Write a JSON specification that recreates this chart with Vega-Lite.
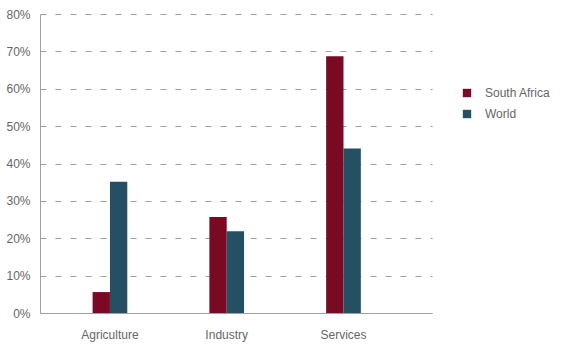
{
  "$schema": "https://vega.github.io/schema/vega-lite/v6.json",
  "width": 392,
  "height": 299,
  "padding": {"left": 5, "top": 8, "right": 5, "bottom": 5},
  "background": "white",
  "config": {
    "font": "Liberation Sans",
    "view": {"stroke": null},
    "axis": {"labelColor": "#666666", "labelFontSize": 12, "labelFont": "Liberation Sans", "domainColor": "#a0a0a0", "ticks": false, "titleFontSize": 12}
  },
  "data": {
    "values": [
      {"sector": "Agriculture", "region": "South Africa", "share": 0.056},
      {"sector": "Agriculture", "region": "World", "share": 0.351},
      {"sector": "Industry", "region": "South Africa", "share": 0.257},
      {"sector": "Industry", "region": "World", "share": 0.219},
      {"sector": "Services", "region": "South Africa", "share": 0.687},
      {"sector": "Services", "region": "World", "share": 0.44}
    ]
  },
  "mark": {"type": "bar"},
  "encoding": {
    "x": {
      "field": "sector",
      "type": "nominal",
      "sort": ["Agriculture", "Industry", "Services"],
      "title": null,
      "scale": {"paddingInner": 0.703, "paddingOuter": 0.53, "align": 0.425},
      "axis": {"labelAngle": 0, "labelPadding": 16, "domainColor": "#a0a0a0"}
    },
    "xOffset": {"field": "region", "type": "nominal", "sort": ["South Africa", "World"]},
    "y": {
      "field": "share",
      "type": "quantitative",
      "title": null,
      "scale": {"domain": [0, 0.8]},
      "axis": {
        "format": ".0%",
        "values": [0, 0.1, 0.2, 0.3, 0.4, 0.5, 0.6, 0.7, 0.8],
        "grid": true,
        "gridColor": "#a0a0a0",
        "gridDash": [6, 9],
        "gridWidth": 1,
        "labelPadding": 10
      }
    },
    "color": {
      "field": "region",
      "type": "nominal",
      "scale": {"domain": ["South Africa", "World"], "range": ["#7a0a24", "#254f63"]},
      "legend": {
        "title": null,
        "orient": "none",
        "legendX": 421,
        "legendY": 73,
        "symbolType": "square",
        "symbolSize": 70,
        "labelFontSize": 12,
        "labelColor": "#666666",
        "labelFont": "Liberation Sans",
        "rowPadding": 9,
        "labelOffset": 12
      }
    }
  }
}
